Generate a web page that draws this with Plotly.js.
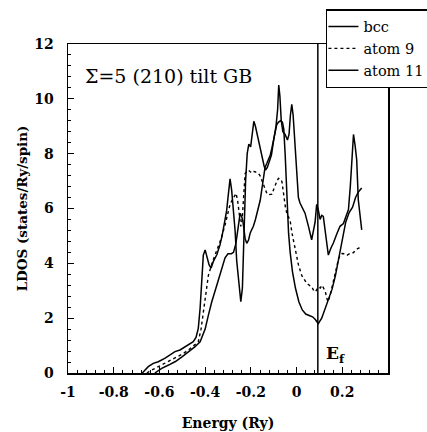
<!DOCTYPE html>
<html>
<head>
<meta charset="utf-8">
<script src="https://cdn.plot.ly/plotly-3.0.1.min.js"></script>
<style>html,body{margin:0;padding:0;background:#fff;}#chart{width:427px;height:432px;}</style>
</head>
<body>
<div id="chart"></div>
<script>
// ---- data ----
const seriesNames = ["bcc", "atom 9", "atom 11"];

const bccE = [-0.62,-0.59,-0.56,-0.53,-0.50,-0.47,-0.444,-0.422,-0.40,-0.386,-0.371,-0.349,-0.327,-0.313,-0.30,-0.285,-0.276,-0.266,-0.259,-0.252,-0.247,-0.24,-0.235,-0.225,-0.218,-0.21,-0.203,-0.195,-0.189,-0.18,-0.174,-0.165,-0.159,-0.152,-0.145,-0.138,-0.13,-0.123,-0.115,-0.108,-0.101,-0.094,-0.087,-0.079,-0.07,-0.062,-0.056,-0.05,-0.045,-0.04,-0.035,-0.028,-0.018,-0.005,0.01,0.025,0.04,0.055,0.07,0.082,0.095,0.11,0.125,0.14,0.155,0.17,0.183,0.2,0.215,0.23,0.245,0.258,0.27,0.285];
const bccDOS = [0,0.17,0.29,0.42,0.6,0.78,0.96,1.14,1.6,2.1,2.6,3.2,3.8,4.2,4.35,4.35,4.4,4.7,5.1,5.6,5.82,5.7,5.55,4.9,4.73,4.85,5.1,5.25,5.35,5.6,5.85,6.1,6.3,6.7,7.16,7.5,7.65,7.8,7.95,8.2,8.5,8.8,9.05,9.15,9.2,9.15,8.9,8.0,7.0,6.0,5.1,4.4,3.7,3.1,2.6,2.3,2.15,2.1,2.05,1.95,1.8,2.0,2.35,2.7,3.05,3.55,4.1,4.9,5.5,5.85,6.05,6.4,6.6,6.75];

const atom9E = [-0.655,-0.641,-0.619,-0.59,-0.561,-0.532,-0.502,-0.473,-0.444,-0.43,-0.418,-0.408,-0.397,-0.386,-0.368,-0.349,-0.33,-0.313,-0.298,-0.291,-0.282,-0.272,-0.265,-0.258,-0.254,-0.248,-0.244,-0.238,-0.232,-0.225,-0.218,-0.211,-0.204,-0.196,-0.189,-0.181,-0.174,-0.167,-0.16,-0.152,-0.145,-0.137,-0.13,-0.123,-0.115,-0.108,-0.1,-0.094,-0.086,-0.079,-0.071,-0.064,-0.058,-0.054,-0.048,-0.042,-0.035,-0.028,-0.02,-0.013,-0.006,0.001,0.008,0.016,0.023,0.031,0.038,0.045,0.056,0.067,0.075,0.082,0.089,0.096,0.104,0.111,0.118,0.126,0.132,0.137,0.146,0.155,0.162,0.17,0.177,0.184,0.192,0.199,0.21,0.221,0.232,0.243,0.25,0.257,0.27,0.284];
const atom9DOS = [0,0.08,0.17,0.29,0.41,0.54,0.68,0.84,1.02,1.14,1.6,2.2,2.95,3.55,4.05,4.45,4.9,5.4,5.9,6.15,6.3,6.45,6.55,6.3,6.05,5.6,5.35,5.6,6.6,7.28,7.35,7.4,7.35,7.3,7.35,7.34,7.3,7.28,7.2,7.04,6.85,6.67,6.55,6.5,6.5,6.52,6.7,6.86,7.0,7.1,7.08,6.98,6.6,6.31,6.0,5.82,5.7,5.55,5.1,4.85,4.5,4.24,3.95,3.75,3.55,3.45,3.35,3.26,3.2,3.14,3.0,2.96,3.05,3.14,3.1,3.2,3.1,2.96,2.75,2.6,2.8,3.14,3.4,3.63,3.9,4.18,4.3,4.36,4.35,4.3,4.35,4.36,4.4,4.48,4.55,4.6];

const atom11E = [-0.675,-0.66,-0.649,-0.627,-0.605,-0.575,-0.554,-0.532,-0.51,-0.488,-0.466,-0.452,-0.44,-0.43,-0.422,-0.415,-0.408,-0.4,-0.393,-0.383,-0.374,-0.364,-0.349,-0.335,-0.325,-0.316,-0.306,-0.298,-0.291,-0.284,-0.276,-0.269,-0.262,-0.251,-0.244,-0.237,-0.23,-0.223,-0.216,-0.209,-0.201,-0.194,-0.187,-0.18,-0.17,-0.16,-0.15,-0.142,-0.136,-0.128,-0.12,-0.11,-0.1,-0.09,-0.083,-0.078,-0.073,-0.067,-0.06,-0.05,-0.04,-0.033,-0.027,-0.021,-0.015,-0.008,0.0,0.008,0.015,0.025,0.037,0.052,0.066,0.074,0.081,0.088,0.095,0.103,0.11,0.117,0.124,0.132,0.139,0.15,0.161,0.175,0.19,0.205,0.215,0.227,0.235,0.242,0.249,0.256,0.263,0.27,0.278,0.285];
const atom11DOS = [0,0.12,0.23,0.35,0.41,0.54,0.66,0.78,0.84,0.96,1.08,1.14,1.3,1.63,2.36,3.34,4.3,4.49,4.3,3.95,3.83,4.07,4.31,4.68,5.04,5.5,5.92,6.55,7.08,6.67,5.94,5.2,4.1,3.1,2.6,3.1,5.0,7.0,8.0,8.35,8.25,8.7,9.18,9.0,8.6,8.3,7.9,7.55,7.4,7.5,7.7,7.95,8.5,9.0,9.6,10.5,10.1,9.2,8.8,8.7,8.5,8.7,9.4,9.8,9.4,8.4,7.4,6.4,6.2,6.0,5.83,5.35,4.86,5.2,5.5,6.15,5.95,5.6,5.75,5.71,5.2,4.6,4.3,4.55,4.74,5.05,5.35,5.45,5.65,5.96,6.8,7.66,8.7,8.3,7.78,6.32,5.6,5.22];

const EF = 0.093;                         // Fermi energy marker
const xTickVals = [-1, -0.8, -0.6, -0.4, -0.2, 0, 0.2];
const xTickText = ["-1", "-0.8", "-0.6", "-0.4", "-0.2", "0", "0.2"];
const yTickVals = [0, 2, 4, 6, 8, 10, 12];

// ---- chart ----
const serif = "DejaVu Serif";
const traces = [
  {x: bccE, y: bccDOS, name: seriesNames[0], mode: "lines", line: {color: "#000", width: 1.5}},
  {x: atom9E, y: atom9DOS, name: seriesNames[1], mode: "lines", line: {color: "#000", width: 1.4, dash: "dot"}},
  {x: atom11E, y: atom11DOS, name: seriesNames[2], mode: "lines", line: {color: "#000", width: 1.5}}
];

const axisCommon = {
  showgrid: false, zeroline: false, showline: true, linecolor: "#000", linewidth: 1.5, mirror: true,
  ticks: "inside", ticklen: 6, tickwidth: 1, tickcolor: "#000",
  tickfont: {family: serif, size: 14, color: "#000", weight: "bold"}
};

const layout = {
  width: 427, height: 432,
  margin: {l: 68, r: 39, t: 44, b: 59, autoexpand: false},
  paper_bgcolor: "#fff", plot_bgcolor: "#fff",
  font: {family: serif, color: "#000"},
  showlegend: true,
  legend: {
    x: 0.806, y: 1.106, xanchor: "left", yanchor: "top",
    bgcolor: "#fff", bordercolor: "#000", borderwidth: 1.5,
    font: {family: serif, size: 14.5, color: "#000"},
    itemwidth: 30, tracegroupgap: 0, indentation: -4
  },
  xaxis: Object.assign({}, axisCommon, {
    range: [-1, 0.4], tickmode: "array", tickvals: xTickVals, ticktext: xTickText,
    ticklabelstandoff: 6,
    minor: {tickmode: "linear", tick0: -1, dtick: 0.04, ticks: "inside", ticklen: 3, tickcolor: "#000"},
    title: {text: "Energy (Ry)", font: {family: serif, size: 14, color: "#000", weight: "bold"}, standoff: 19}
  }),
  yaxis: Object.assign({}, axisCommon, {
    range: [0, 12], tickmode: "array", tickvals: yTickVals,
    ticklabelstandoff: 10,
    minor: {tickmode: "linear", tick0: 0, dtick: 0.4, ticks: "inside", ticklen: 3, tickcolor: "#000"},
    title: {text: "LDOS (states/Ry/spin)", font: {family: serif, size: 13.5, color: "#000", weight: "bold"}, standoff: 3}
  }),
  shapes: [
    {type: "line", xref: "x", yref: "paper", x0: EF, x1: EF, y0: 0, y1: 1, line: {color: "#000", width: 1.5}}
  ],
  annotations: [
    {text: "Σ=5 (210) tilt GB", xref: "paper", yref: "paper", x: 0.047, y: 0.904,
     xanchor: "left", yanchor: "middle", showarrow: false,
     font: {family: serif, size: 19, color: "#000"}},
    {text: "E<sub>f</sub>", xref: "paper", yref: "paper", x: 0.80, y: 0.055,
     xanchor: "left", yanchor: "middle", showarrow: false,
     font: {family: serif, size: 17, color: "#000", weight: "bold"}}
  ]
};

Plotly.newPlot("chart", traces, layout, {displayModeBar: false, staticPlot: true});
</script>
</body>
</html>
